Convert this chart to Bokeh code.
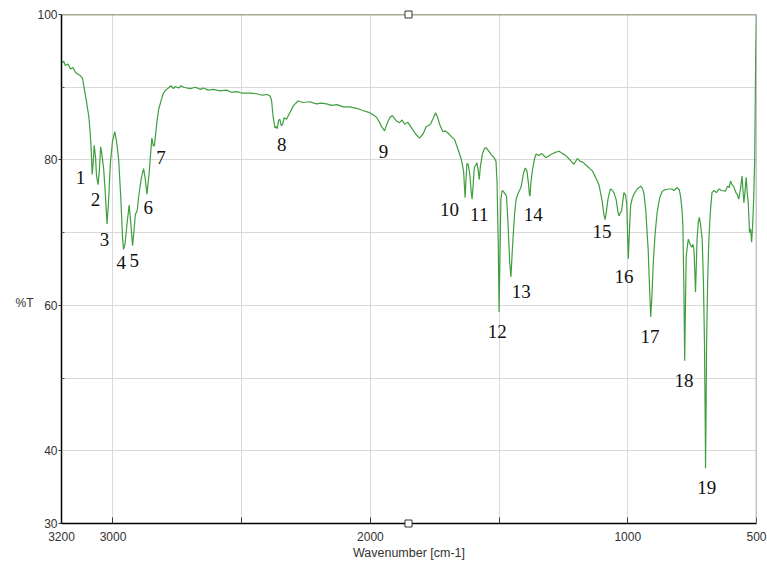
from bokeh.plotting import figure
from bokeh.models import Range1d, FixedTicker, Span, ColumnDataSource
from bokeh.core.properties import value
from bokeh.embed import file_html
from bokeh.resources import INLINE

# ---------------- data ----------------
wavenumber = [
    3200, 3192, 3185, 3175, 3165, 3155, 3145, 3135, 3125, 3118, 3114, 3105, 3094, 3088, 3084,
    3081, 3077, 3073, 3068, 3064, 3058, 3053, 3048, 3044, 3036, 3030, 3023, 3017, 3010, 3002,
    2993, 2986, 2978, 2970, 2963, 2959, 2953, 2945, 2937, 2930, 2924, 2919, 2913, 2906, 2900,
    2890, 2881, 2875, 2868, 2860, 2849, 2843, 2839, 2830, 2823, 2812, 2804, 2795, 2785, 2775,
    2765, 2758, 2745, 2735, 2726, 2700, 2680, 2660, 2649, 2630, 2610, 2584, 2560, 2540, 2520,
    2500, 2470, 2442, 2420, 2400, 2390, 2384, 2378, 2371, 2366, 2362, 2357, 2352, 2346, 2341,
    2335, 2326, 2313, 2300, 2290, 2281, 2260, 2235, 2210, 2190, 2171, 2150, 2130, 2106, 2080,
    2054, 2030, 2003, 1990, 1977, 1965, 1955, 1945, 1935, 1925, 1915, 1900, 1887, 1877, 1867,
    1855, 1840, 1825, 1809, 1795, 1783, 1770, 1764, 1755, 1747, 1740, 1730, 1719, 1709, 1699,
    1685, 1673, 1660, 1647, 1638, 1634, 1632, 1629, 1625, 1620, 1614, 1608, 1605, 1601, 1596,
    1592, 1586, 1581, 1577, 1573, 1565, 1558, 1551, 1540, 1530, 1519, 1512, 1508, 1503, 1500,
    1497, 1493, 1488, 1484, 1476, 1471, 1465, 1459, 1454, 1448, 1440, 1434, 1425, 1415, 1405,
    1398, 1392, 1386, 1382, 1380, 1376, 1370, 1362, 1357, 1345, 1335, 1318, 1300, 1285, 1267,
    1255, 1241, 1230, 1220, 1209, 1196, 1185, 1175, 1163, 1150, 1138, 1125, 1112, 1100, 1093,
    1088, 1082, 1077, 1068, 1062, 1054, 1045, 1038, 1034, 1028, 1024, 1019, 1015, 1009, 1004,
    1001, 998, 994, 989, 982, 976, 963, 950, 942, 937, 930, 925, 921, 915, 911,
    906, 901, 894, 886, 876, 866, 855, 840, 830, 820, 808, 800, 795, 789, 786,
    782, 779, 776, 773, 769, 765, 758, 752, 747, 743, 739, 737, 735, 731, 726,
    722, 717, 711, 706, 702, 699, 698, 696, 694, 690, 685, 679, 673, 665, 655,
    647, 635, 621, 612, 606, 601, 595, 589, 580, 574, 569, 563, 556, 553, 549,
    545, 540, 536, 532, 527, 523, 519, 515, 511, 507, 503, 500,
]
transmittance = [
    93.3, 93.6, 93.0, 93.2, 92.5, 92.7, 92.0, 91.8, 91.5, 91.2, 90.3, 88.5, 86.0, 83.5, 81.0,
    78.0, 79.5, 82.0, 80.5, 77.8, 76.6, 78.5, 81.8, 81.0, 78.7, 75.5, 71.2, 74.5, 79.6, 82.5,
    83.9, 82.5, 80.1, 75.0, 69.5, 67.7, 68.5, 71.4, 73.8, 71.0, 68.2, 70.0, 72.5, 73.0, 75.0,
    77.5, 78.8, 77.5, 75.3, 78.0, 83.0, 81.9, 82.0, 85.0, 86.9, 88.3, 89.2, 89.6, 89.9, 90.2,
    89.8, 90.1, 89.9, 90.2, 90.0, 89.8, 90.0, 89.7, 89.9, 89.6, 89.7, 89.5, 89.6, 89.3, 89.4,
    89.2, 89.2, 89.1, 88.9, 89.0, 88.8, 88.2, 86.0, 84.4, 84.6, 84.3, 85.4, 85.6, 84.7, 84.9,
    85.8, 85.6, 86.5, 87.4, 87.8, 88.1, 87.9, 88.0, 87.7, 87.8, 87.7, 87.5, 87.6, 87.3, 87.3,
    87.1, 86.8, 86.5, 86.2, 85.9, 85.2, 84.5, 84.0, 85.0, 85.8, 86.1, 85.4, 85.1, 85.5, 84.9,
    85.2, 84.4, 83.6, 83.0, 83.6, 84.6, 84.8, 85.1, 85.8, 86.5, 86.0, 84.8, 83.9, 84.0, 83.7,
    83.2, 82.8, 81.5, 80.1, 78.5, 76.0, 74.8, 77.0, 79.5, 79.4, 78.0, 75.5, 74.6, 76.5, 79.0,
    79.2, 79.6, 78.5, 77.3, 79.0, 80.8, 81.5, 81.7, 81.2, 80.7, 80.3, 79.8, 77.0, 68.0, 59.1,
    66.0, 74.6, 75.8, 75.7, 75.3, 75.0, 71.0, 66.0, 63.9, 68.0, 72.5, 74.6, 75.5, 76.2, 78.2,
    78.9, 78.5, 76.8, 75.2, 75.0, 77.0, 78.7, 80.2, 80.8, 80.6, 80.9, 80.3, 80.7, 81.0, 81.2,
    80.9, 80.6, 80.2, 79.8, 79.4, 80.2, 79.8, 79.7, 79.3, 78.9, 78.5, 77.6, 76.6, 74.4, 72.5,
    71.8, 73.2, 74.6, 76.0, 75.9, 75.5, 74.5, 72.8, 72.3, 72.8, 73.0, 74.5, 75.5, 75.2, 74.0,
    70.0, 66.4, 70.0, 73.7, 74.8, 75.3, 76.0, 76.4, 76.0, 75.3, 73.0, 70.0, 67.8, 62.0, 58.4,
    61.5, 65.9, 69.8, 72.8, 74.8, 75.7, 75.9, 76.0, 76.0, 75.8, 76.2, 75.9, 75.0, 73.0, 70.9,
    62.0, 52.4, 60.0, 66.8, 68.0, 69.1, 68.4, 68.0, 68.4, 67.7, 64.0, 61.8, 64.0, 69.1, 71.5,
    72.1, 71.0, 69.1, 63.0, 54.5, 43.0, 37.6, 45.0, 54.5, 63.0, 69.1, 73.0, 75.5, 75.8, 75.5,
    76.0, 75.8, 75.7, 76.4, 76.2, 77.1, 76.6, 76.4, 75.5, 75.2, 74.6, 75.8, 77.8, 76.0, 74.1,
    75.5, 77.6, 75.5, 74.1, 70.0, 70.5, 68.7, 71.0, 74.6, 80.0, 95.0, 100.0,
]

peak_labels = [str(i) for i in range(1, 20)]
peak_label_wn = [3126, 3068, 3033, 2968, 2917, 2863, 2813, 2344, 1949, 1693,
                 1577, 1507, 1414, 1367, 1100, 1015, 914, 782, 693]
peak_label_t = [77.6, 74.6, 69.0, 65.9, 66.2, 73.5, 80.3, 82.1, 81.2, 73.2,
                72.5, 56.4, 61.9, 72.5, 70.2, 63.9, 55.7, 49.7, 34.9]

x_tick_values = [3200, 3000, 2500, 2000, 1500, 1000, 500]
x_tick_labels = ["3200", "3000", "", "2000", "", "1000", "500"]
y_tick_values = [30, 40, 60, 80, 100]
y_minor_ticks = [50, 70, 90]
x_grid_values = [3000, 2500, 2000, 1500, 1000]
y_grid_values = [40, 50, 60, 70, 80, 90]
cursor_wn = [1852, 1852]
cursor_t = [100, 30]

# ---------------- figure ----------------
p = figure(width=767, height=562, output_backend="svg", toolbar_location=None,
           x_range=Range1d(3200, 500), y_range=Range1d(30, 100),
           min_border_left=61, min_border_right=11, min_border_top=14, min_border_bottom=37)
p.outline_line_color = None
p.background_fill_color = "white"
p.border_fill_color = "white"

tick_font = "Liberation Sans"

p.xaxis.ticker = FixedTicker(ticks=x_tick_values)
p.xaxis.major_label_overrides = {v: l for v, l in zip(x_tick_values, x_tick_labels)}
p.xaxis.major_tick_in = 6
p.xaxis.major_tick_out = 0
p.xaxis.minor_tick_line_color = None
p.xaxis.major_label_standoff = 8
p.xaxis.axis_line_color = "black"
p.xaxis.axis_line_width = 1.5
p.xaxis.major_tick_line_color = "#333333"
p.xaxis.major_label_text_font = tick_font
p.xaxis.major_label_text_font_size = "12px"
p.xaxis.major_label_text_color = "#333333"
p.xaxis.axis_label = "Wavenumber [cm-1]"
p.xaxis.axis_label_text_font = tick_font
p.xaxis.axis_label_text_font_size = "12.5px"
p.xaxis.axis_label_text_font_style = "normal"
p.xaxis.axis_label_text_color = "#333333"
p.xaxis.axis_label_standoff = 2

p.yaxis.ticker = FixedTicker(ticks=y_tick_values, minor_ticks=y_minor_ticks)
p.yaxis.major_tick_in = 0
p.yaxis.major_tick_out = 3
p.yaxis.minor_tick_in = 3
p.yaxis.minor_tick_out = 0
p.yaxis.major_label_standoff = 1
p.yaxis.axis_line_color = "black"
p.yaxis.axis_line_width = 1.5
p.yaxis.major_tick_line_color = "#333333"
p.yaxis.minor_tick_line_color = "#555555"
p.yaxis.major_label_text_font = tick_font
p.yaxis.major_label_text_font_size = "12px"
p.yaxis.major_label_text_color = "#333333"
# "%T" written horizontally, pushed slightly below the frame centre
p.yaxis.axis_label = "\n\n\n\n%T"
p.yaxis.axis_label_orientation = "horizontal"
p.yaxis.axis_label_text_font = tick_font
p.yaxis.axis_label_text_font_size = "12px"
p.yaxis.axis_label_text_font_style = "normal"
p.yaxis.axis_label_text_color = "#333333"
p.yaxis.axis_label_standoff = 1

p.xgrid.ticker = FixedTicker(ticks=x_grid_values)
p.ygrid.ticker = FixedTicker(ticks=y_grid_values)
p.xgrid.grid_line_color = "#d9d9d9"
p.ygrid.grid_line_color = "#d9d9d9"

# frame top / right
p.add_layout(Span(location=100, dimension="width", line_color="#4b5a22", line_width=1.5))
p.add_layout(Span(location=500, dimension="height", line_color="#8a8a8a", line_width=1.5))

src = ColumnDataSource(dict(x=wavenumber, y=transmittance))
p.line("x", "y", source=src, line_color="#3f9e3f", line_width=1.2)

lab = ColumnDataSource(dict(x=peak_label_wn, y=peak_label_t, t=peak_labels))
p.text("x", "y", text="t", source=lab, text_font=value("Liberation Serif"),
       text_font_size="19px", text_align="center", text_baseline="middle",
       text_color="#111111")

# cursor markers on the frame edges
p.scatter(cursor_wn, cursor_t, marker="square", size=7, fill_color="white",
          line_color="#333333", line_width=1, level="overlay")

open("out.html", "w").write(file_html(p, INLINE))
